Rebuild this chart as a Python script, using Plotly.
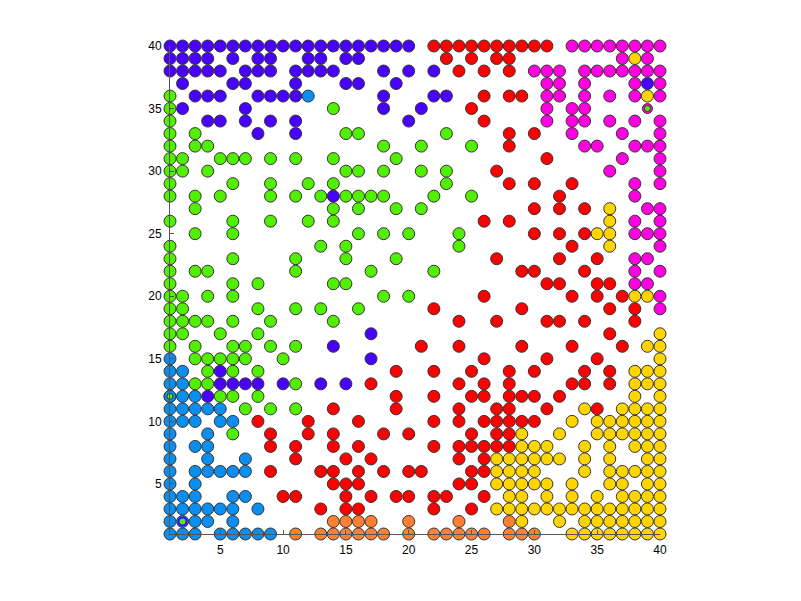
import plotly.graph_objects as go

# rows: y -> list of x positions, one dict per colour series
purple = {
    40: list(range(1, 21)),
    39: [1, 2, 3, 4, 6, 8, 9, 12, 13, 15, 16],
    38: [1, 2, 3, 4, 5, 7, 8, 9, 11, 12, 13, 14, 18, 20, 22],
    37: [2, 6, 7, 11, 15, 16, 19, 39],
    36: [3, 4, 5, 8, 9, 10, 11, 18, 22, 23],
    35: [2, 7, 18, 21],
    34: [4, 5, 7, 9, 11, 20],
    33: [8, 11],
    28: [14],
    17: [17],
    16: [14],
    15: [17],
    14: [5],
    13: [5, 6, 7, 8, 10, 13, 15],
    12: [4],
}
green = {
    36: [1],
    35: [1, 14],
    34: [1],
    33: [1, 3, 15, 16, 23],
    32: [1, 3, 4, 18, 21, 25],
    31: [1, 2, 5, 6, 7, 9, 11, 14, 19],
    30: [1, 2, 4, 15, 16, 18, 21, 23],
    29: [1, 6, 9, 12, 14, 23],
    28: [1, 3, 5, 9, 11, 13, 15, 16, 17, 18, 22, 25],
    27: [3, 14, 16, 19, 21],
    26: [1, 6, 9, 12, 14],
    25: [3, 6, 16, 18, 20, 24],
    24: [1, 13, 15, 24],
    23: [1, 6, 11, 15, 19],
    22: [1, 3, 4, 11, 17, 22],
    21: [1, 6, 8, 14, 15],
    20: [1, 2, 4, 6, 18, 20],
    19: [1, 2, 8, 11, 13, 16],
    18: [1, 2, 3, 4, 6, 9, 14],
    17: [1, 2, 5, 8],
    16: [1, 3, 6, 7, 9, 11],
    15: [3, 4, 5, 6, 7, 10],
    14: [4, 6, 8],
    13: [3, 4, 11],
    12: [5, 6, 8],
    11: [7, 9, 11],
    9: [6],
}
blue = {
    36: [12],
    15: [1],
    14: [1, 2],
    13: [1, 2],
    12: [1, 2, 3],
    11: [1, 2, 3, 4, 5],
    10: [1, 2, 3, 5, 6],
    9: [1, 4],
    8: [1, 3, 4],
    7: [1, 4, 7],
    6: [1, 3, 4, 5, 6, 7],
    5: [1, 3],
    4: [1, 2, 3, 6, 7],
    3: [1, 2, 3, 4, 5, 6, 8],
    2: [1, 3, 4, 6],
    1: [1, 2, 3, 5, 6, 7, 8, 9],
}
red = {
    40: list(range(22, 32)),
    39: [23, 25, 27, 28],
    38: [24, 26, 28],
    36: [26, 28, 29],
    35: [25],
    34: [26],
    33: [28, 30],
    32: [28],
    31: [31],
    30: [27],
    29: [28, 30, 33],
    28: [32],
    27: [30, 32, 34],
    26: [26, 28],
    25: [30, 32, 34],
    24: [33],
    23: [27, 32, 35],
    22: [29, 30, 34],
    21: [31, 32, 35, 36],
    20: [26, 33, 35, 37],
    19: [22, 29, 36, 38],
    18: [24, 27, 31, 32, 34, 38],
    17: [36],
    16: [21, 24, 29, 33, 37],
    15: [26, 31, 35],
    14: [19, 22, 25, 28, 30, 34, 36],
    13: [17, 24, 26, 28, 33, 34, 36],
    12: [19, 22, 25, 26, 28, 29, 30, 32],
    11: [14, 19, 24, 27, 28, 31, 35],
    10: [8, 12, 16, 22, 24, 26, 27, 28, 29, 30],
    9: [9, 12, 14, 18, 20, 25, 27, 28],
    8: [9, 11, 14, 16, 22, 24, 25, 26, 27, 28],
    7: [11, 15, 17, 24, 26],
    6: [9, 13, 14, 16, 18, 20, 21, 25, 26],
    5: [14, 15, 16, 24, 25],
    4: [10, 11, 15, 17, 19, 20, 22, 23, 26],
    3: [13, 15, 16, 22, 25],
}
magenta = {
    40: list(range(33, 41)),
    39: [37, 39],
    38: [30, 31, 32, 34, 35, 36, 37, 38, 39, 40],
    37: [31, 32, 34, 38, 40],
    36: [31, 32, 34, 36, 38, 40],
    35: [31, 33, 34],
    34: [31, 33, 34, 36, 38, 40],
    33: [33, 37, 40],
    32: [34, 35, 38, 39, 40],
    31: [37, 40],
    30: [36, 40],
    29: [38, 40],
    28: [38],
    27: [39, 40],
    26: [38, 40],
    25: [38, 39, 40],
    24: [40],
    23: [38, 39],
    22: [38, 40],
    21: [38, 39],
    20: [40],
    19: [40],
}
yellow = {
    39: [38],
    36: [39],
    27: [36],
    26: [36],
    25: [35, 36],
    24: [36],
    20: [38, 39],
    17: [40],
    16: [39, 40],
    15: [40],
    14: [38, 39, 40],
    13: [38, 39, 40],
    12: [38, 40],
    11: [34, 37, 38, 39, 40],
    10: [33, 35, 36, 37, 38, 39, 40],
    9: [29, 32, 35, 36, 37, 38, 39, 40],
    8: [29, 30, 31, 34, 36, 38, 39, 40],
    7: [27, 28, 29, 30, 31, 32, 34, 36, 39, 40],
    6: [27, 28, 29, 30, 34, 36, 37, 38, 39, 40],
    5: [27, 28, 29, 30, 31, 33, 36, 37, 39, 40],
    4: [28, 29, 31, 33, 35, 37, 38, 39, 40],
    3: list(range(27, 41)),
    2: [29, 32, 34, 35, 36, 37, 38, 39, 40],
    1: list(range(33, 41)),
}
orange = {
    2: [14, 15, 16, 17, 20, 24, 28],
    1: [11, 13, 14, 15, 16, 17, 18, 20, 22, 23, 24, 25, 26, 28, 29, 30],
}
# special mixed points
special_x = [1, 2, 39]
special_y = [12, 2, 35]

tick_vals = [5, 10, 15, 20, 25, 30, 35, 40]

COLORS = {
    "purple": "#4800ff",
    "green": "#50f000",
    "blue": "#0a8ff0",
    "red": "#ff0000",
    "magenta": "#ff00e0",
    "yellow": "#ffd500",
    "orange": "#ff7f33",
}


def expand(rows):
    xs, ys = [], []
    for y, xlist in rows.items():
        for x in xlist:
            xs.append(x)
            ys.append(y)
    return xs, ys


fig = go.Figure()
series = [("blue", blue), ("orange", orange), ("yellow", yellow), ("red", red),
          ("green", green), ("purple", purple), ("magenta", magenta)]
for name, rows in series:
    xs, ys = expand(rows)
    fig.add_trace(go.Scatter(
        x=xs, y=ys, mode="markers", cliponaxis=False, showlegend=False,
        marker=dict(size=12, color=COLORS[name], line=dict(color="#333333", width=1)),
    ))


def dot(i, size, color, lcolor="#333333", lwidth=1):
    fig.add_trace(go.Scatter(
        x=[special_x[i]], y=[special_y[i]], mode="markers", cliponaxis=False, showlegend=False,
        marker=dict(size=size, color=color, line=dict(color=lcolor, width=lwidth))))


# (1,12): blue circle with small green core
dot(0, 12, COLORS["blue"])
dot(0, 6, COLORS["green"])
# (2,2): green core with purple ring on blue
dot(1, 12, COLORS["blue"])
dot(1, 8, COLORS["green"], COLORS["purple"], 2)
# (39,35): magenta ring with green core
dot(2, 10, COLORS["magenta"])
dot(2, 6, COLORS["green"])

axis_common = dict(
    range=[1, 40], showgrid=False, zeroline=False, showline=True,
    linecolor="#555555", linewidth=1, ticks="inside", ticklen=4, tickcolor="#555555",
    tickvals=tick_vals, ticktext=[str(v) for v in tick_vals],
    tickfont=dict(family="Liberation Sans, Arial, sans-serif", size=12, color="#000000"),
    ticklabelstandoff=5,
    fixedrange=True,
)
fig.update_layout(
    width=801, height=601,
    margin=dict(l=170, r=141, t=46, b=67),
    paper_bgcolor="white", plot_bgcolor="white",
    xaxis=axis_common,
    yaxis=axis_common,
    showlegend=False,
)

fig.write_html("out.html")
